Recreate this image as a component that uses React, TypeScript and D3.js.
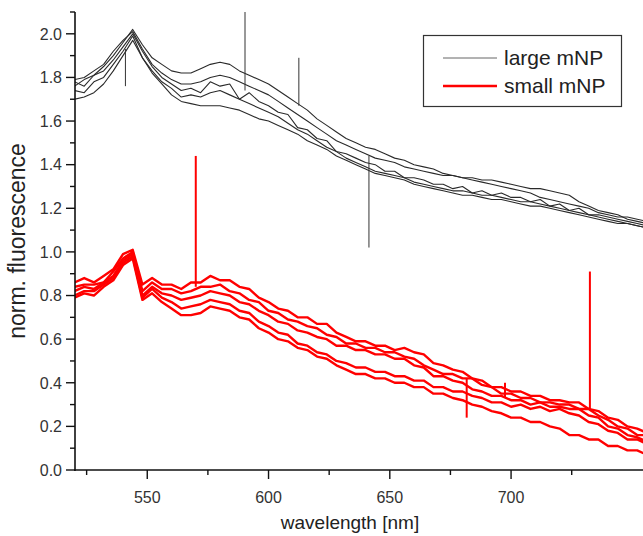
import React from "react";
import * as d3 from "d3";

// ---------- data ----------
const wavelengths = [
  520, 524, 528, 532, 536, 540, 544, 548, 552, 556, 560, 564, 568, 572, 576, 580, 584, 588, 592, 596,
  600, 604, 608, 612, 616, 620, 624, 628, 632, 636, 640, 644, 648, 652, 656, 660, 664, 668, 672, 676,
  680, 684, 688, 692, 696, 700, 704, 708, 712, 716, 720, 724, 728, 732, 736, 740, 744, 748, 752, 756,
];

const large1 = [
  1.76, 1.79, 1.81, 1.85, 1.90, 1.96, 2.02, 1.95, 1.89, 1.86, 1.83, 1.82, 1.82, 1.84, 1.86, 1.87, 1.86, 1.83, 1.81, 1.79,
  1.77, 1.74, 1.71, 1.68, 1.65, 1.61, 1.58, 1.55, 1.52, 1.50, 1.48, 1.47, 1.45, 1.43, 1.42, 1.40, 1.39, 1.38, 1.36, 1.35,
  1.34, 1.33, 1.32, 1.31, 1.30, 1.29, 1.28, 1.27, 1.25, 1.24, 1.23, 1.22, 1.21, 1.20, 1.18, 1.17, 1.16, 1.16, 1.15, 1.14,
];
const large2 = [
  1.79, 1.80, 1.83, 1.86, 1.92, 1.97, 2.01, 1.93, 1.86, 1.82, 1.79, 1.77, 1.77, 1.78, 1.80, 1.81, 1.80, 1.78, 1.76, 1.74,
  1.72, 1.69, 1.66, 1.63, 1.60, 1.57, 1.54, 1.51, 1.49, 1.47, 1.45, 1.43, 1.42, 1.41, 1.39, 1.38, 1.37, 1.36, 1.35, 1.35,
  1.34, 1.34, 1.33, 1.33, 1.32, 1.31, 1.30, 1.29, 1.29, 1.28, 1.27, 1.26, 1.23, 1.21, 1.19, 1.18, 1.17, 1.15, 1.14, 1.13,
];
const large3 = [
  1.78, 1.76, 1.81, 1.83, 1.88, 1.94, 2.00, 1.92, 1.85, 1.80, 1.77, 1.74, 1.75, 1.73, 1.78, 1.76, 1.77, 1.70, 1.73, 1.69,
  1.67, 1.64, 1.63, 1.57, 1.56, 1.52, 1.51, 1.46, 1.45, 1.43, 1.41, 1.40, 1.37, 1.37, 1.34, 1.34, 1.33, 1.31, 1.31, 1.29,
  1.30, 1.27, 1.28, 1.26, 1.27, 1.25, 1.25, 1.23, 1.24, 1.21, 1.22, 1.19, 1.20, 1.17, 1.17, 1.16, 1.15, 1.14, 1.13, 1.12,
];
const large4 = [
  1.74, 1.73, 1.78, 1.80, 1.86, 1.92, 1.99, 1.89, 1.83, 1.78, 1.75, 1.71, 1.72, 1.71, 1.73, 1.74, 1.72, 1.70, 1.68, 1.66,
  1.64, 1.62, 1.59, 1.56, 1.54, 1.51, 1.48, 1.46, 1.43, 1.41, 1.39, 1.37, 1.36, 1.35, 1.34, 1.32, 1.31, 1.30, 1.29, 1.28,
  1.28, 1.27, 1.26, 1.26, 1.25, 1.24, 1.23, 1.23, 1.22, 1.21, 1.20, 1.19, 1.18, 1.17, 1.16, 1.15, 1.14, 1.13, 1.12, 1.11,
];
const large5 = [
  1.70, 1.71, 1.73, 1.77, 1.83, 1.90, 1.97, 1.89, 1.82, 1.77, 1.72, 1.69, 1.68, 1.67, 1.67, 1.67, 1.66, 1.65, 1.63, 1.61,
  1.60, 1.58, 1.56, 1.54, 1.51, 1.49, 1.47, 1.44, 1.42, 1.40, 1.38, 1.36, 1.35, 1.34, 1.33, 1.31, 1.30, 1.29, 1.28, 1.27,
  1.26, 1.26, 1.25, 1.24, 1.24, 1.23, 1.22, 1.21, 1.21, 1.20, 1.19, 1.18, 1.17, 1.16, 1.15, 1.14, 1.13, 1.13, 1.12, 1.11,
];

const small1 = [
  0.86, 0.88, 0.86, 0.89, 0.92, 0.99, 1.01, 0.85, 0.88, 0.85, 0.85, 0.83, 0.86, 0.86, 0.89, 0.87, 0.87, 0.84, 0.83, 0.79,
  0.77, 0.74, 0.73, 0.70, 0.70, 0.67, 0.67, 0.63, 0.61, 0.59, 0.59, 0.57, 0.57, 0.55, 0.56, 0.54, 0.53, 0.49, 0.48, 0.46,
  0.45, 0.42, 0.41, 0.38, 0.38, 0.36, 0.36, 0.34, 0.34, 0.32, 0.32, 0.31, 0.31, 0.28, 0.27, 0.24, 0.23, 0.20, 0.19, 0.17,
];
const small2 = [
  0.84, 0.85, 0.85, 0.86, 0.91, 0.97, 1.00, 0.82, 0.86, 0.83, 0.83, 0.81, 0.82, 0.84, 0.84, 0.85, 0.82, 0.81, 0.78, 0.77,
  0.73, 0.72, 0.69, 0.68, 0.66, 0.65, 0.62, 0.61, 0.58, 0.58, 0.56, 0.56, 0.54, 0.54, 0.52, 0.51, 0.48, 0.46, 0.44, 0.44,
  0.42, 0.42, 0.39, 0.38, 0.35, 0.35, 0.33, 0.33, 0.31, 0.31, 0.30, 0.30, 0.28, 0.28, 0.25, 0.23, 0.20, 0.19, 0.16, 0.16,
];
const small3 = [
  0.82, 0.84, 0.83, 0.86, 0.89, 0.96, 0.99, 0.80, 0.84, 0.81, 0.80, 0.78, 0.79, 0.80, 0.82, 0.81, 0.80, 0.77, 0.76, 0.73,
  0.71, 0.68, 0.67, 0.64, 0.63, 0.61, 0.60, 0.57, 0.57, 0.55, 0.55, 0.53, 0.53, 0.51, 0.51, 0.48, 0.47, 0.43, 0.43, 0.41,
  0.40, 0.37, 0.36, 0.34, 0.34, 0.32, 0.32, 0.30, 0.31, 0.29, 0.29, 0.28, 0.28, 0.25, 0.24, 0.20, 0.19, 0.16, 0.15, 0.13,
];
const small4 = [
  0.80, 0.82, 0.82, 0.85, 0.88, 0.95, 0.98, 0.79, 0.83, 0.79, 0.77, 0.74, 0.75, 0.76, 0.78, 0.77, 0.76, 0.73, 0.72, 0.68,
  0.66, 0.63, 0.62, 0.58, 0.57, 0.54, 0.53, 0.50, 0.49, 0.47, 0.47, 0.45, 0.45, 0.43, 0.43, 0.41, 0.41, 0.38, 0.38, 0.36,
  0.36, 0.34, 0.33, 0.31, 0.31, 0.29, 0.30, 0.28, 0.29, 0.27, 0.28, 0.26, 0.25, 0.22, 0.21, 0.18, 0.17, 0.14, 0.14, 0.12,
];
const small5 = [
  0.79, 0.81, 0.80, 0.84, 0.87, 0.94, 0.97, 0.78, 0.81, 0.77, 0.74, 0.71, 0.71, 0.72, 0.75, 0.74, 0.73, 0.70, 0.69, 0.65,
  0.63, 0.60, 0.59, 0.56, 0.55, 0.52, 0.51, 0.48, 0.46, 0.44, 0.44, 0.42, 0.42, 0.40, 0.40, 0.38, 0.38, 0.35, 0.35, 0.33,
  0.32, 0.30, 0.29, 0.27, 0.26, 0.24, 0.24, 0.22, 0.22, 0.20, 0.19, 0.16, 0.16, 0.14, 0.14, 0.11, 0.11, 0.09, 0.09, 0.07,
];

const largeSeries = [large1, large2, large3, large4, large5];
const smallSeries = [small1, small2, small3, small4, small5];

// narrow spikes / glitches: [wavelength, from, to]
const largeSpikes: [number, number, number][] = [
  [541, 1.93, 1.76],
  [590.3, 1.74, 2.1],
  [612.5, 1.67, 1.89],
  [641.4, 1.44, 1.02],
];
const smallSpikes: [number, number, number][] = [
  [570, 0.84, 1.44],
  [681.7, 0.24, 0.42],
  [697.5, 0.33, 0.4],
  [732.5, 0.28, 0.91],
];

const xMajorTicks = [550, 600, 650, 700];
const xMinorTicks = [525, 575, 625, 675, 725];
const yMajorTicks = [0, 0.2, 0.4, 0.6, 0.8, 1.0, 1.2, 1.4, 1.6, 1.8, 2.0];
const yMinorTicks = [0.1, 0.3, 0.5, 0.7, 0.9, 1.1, 1.3, 1.5, 1.7, 1.9, 2.1];

const legendLabels = ["large mNP", "small mNP"];
const xTitle = "wavelength [nm]";
const yTitle = "norm. fluorescence";

// ---------- layout ----------
const W = 643;
const H = 536;
const left = 75;
const bottom = 470;
const top = 12;
const FONT = "'Liberation Sans', Arial, Helvetica, sans-serif";

export default function App() {
  const x = d3.scaleLinear().domain([520, 754.6]).range([74.5, 643.5]);
  const y = d3.scaleLinear().domain([0, 2.1]).range([bottom, top]);

  const line = d3
    .line<number>()
    .x((_, i) => x(wavelengths[i]))
    .y((d) => y(d));

  return (
    <svg
      width={W}
      height={H}
      style={{ position: "absolute", left: 0, top: 0, background: "#fff" }}
      fontFamily={FONT}
    >
      <defs>
        <clipPath id="plot">
          <rect x={left} y={0} width={W - left} height={bottom} />
        </clipPath>
      </defs>
      <rect x={0} y={0} width={W} height={H} fill="#fff" />

      <g clipPath="url(#plot)">
        {largeSeries.map((s, i) => (
          <path key={"l" + i} d={line(s) || ""} fill="none" stroke="#2a2a2a" strokeWidth={1.1} strokeLinejoin="round" />
        ))}
        {largeSpikes.map(([w, a, b], i) => (
          <line key={"ls" + i} x1={x(w)} x2={x(w)} y1={y(a)} y2={y(b)} stroke="#333" strokeWidth={1} />
        ))}
        {smallSeries.map((s, i) => (
          <path key={"s" + i} d={line(s) || ""} fill="none" stroke="#ff0000" strokeWidth={2.4} strokeLinejoin="round" />
        ))}
        {smallSpikes.map(([w, a, b], i) => (
          <line key={"ss" + i} x1={x(w)} x2={x(w)} y1={y(a)} y2={y(b)} stroke="#ff0000" strokeWidth={2} />
        ))}
      </g>

      {/* axes */}
      <line x1={left} x2={left} y1={top} y2={bottom + 1} stroke="#111" strokeWidth={1.6} />
      <line x1={left - 1} x2={W} y1={bottom} y2={bottom} stroke="#111" strokeWidth={1.6} />

      {yMajorTicks.map((t) => (
        <g key={"ym" + t}>
          <line x1={left - 9} x2={left} y1={y(t)} y2={y(t)} stroke="#111" strokeWidth={1.4} />
          <text x={left - 13} y={y(t)} dy="0.36em" textAnchor="end" fontSize={16} fill="#333">
            {t.toFixed(1)}
          </text>
        </g>
      ))}
      {yMinorTicks.map((t) => (
        <line key={"yn" + t} x1={left - 5} x2={left} y1={y(t)} y2={y(t)} stroke="#111" strokeWidth={1.4} />
      ))}
      {xMajorTicks.map((t) => (
        <g key={"xm" + t}>
          <line x1={x(t)} x2={x(t)} y1={bottom} y2={bottom + 9} stroke="#111" strokeWidth={1.4} />
          <text x={x(t)} y={bottom + 33} textAnchor="middle" fontSize={16} fill="#333">
            {t}
          </text>
        </g>
      ))}
      {xMinorTicks.map((t) => (
        <line key={"xn" + t} x1={x(t)} x2={x(t)} y1={bottom} y2={bottom + 5} stroke="#111" strokeWidth={1.4} />
      ))}

      <text x={350} y={529} textAnchor="middle" fontSize={19} fill="#222">
        {xTitle}
      </text>
      <text
        transform={`translate(25, 241) rotate(-90)`}
        textAnchor="middle"
        fontSize={23}
        fill="#222"
      >
        {yTitle}
      </text>

      {/* legend */}
      <rect x={423.5} y={35.5} width={198} height={71} fill="#fff" stroke="#333" strokeWidth={1.2} />
      <line x1={443} x2={497} y1={58} y2={58} stroke="#666" strokeWidth={1} />
      <line x1={443} x2={497} y1={86} y2={86} stroke="#ff0000" strokeWidth={2.5} />
      <text x={504} y={65} fontSize={21} fill="#222">
        {legendLabels[0]}
      </text>
      <text x={504} y={93} fontSize={21} fill="#222">
        {legendLabels[1]}
      </text>
    </svg>
  );
}
